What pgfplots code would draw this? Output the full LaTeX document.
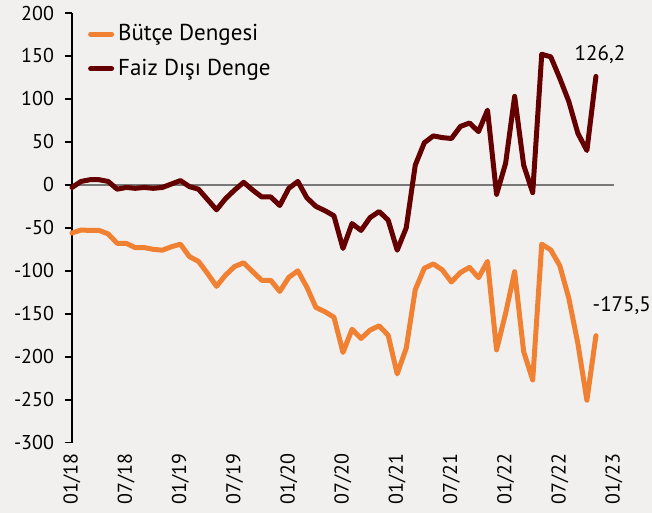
\documentclass[border=0pt]{standalone}
\usepackage{pgfplots}
\pgfplotsset{compat=1.18}
\usepackage{fontspec}
\setmainfont{PT Sans}
\definecolor{bgc}{RGB}{242,240,239}
\definecolor{orn}{RGB}{240,128,50}
\definecolor{drk}{RGB}{100,0,0}
\definecolor{zer}{RGB}{120,120,120}
\begin{document}
\begin{tikzpicture}
\path[use as bounding box, fill=bgc] (0,0) rectangle (326pt,256.5pt);
\begin{axis}[
  at={(36pt,35.15pt)}, anchor=south west,
  scale only axis, width=271pt, height=214.85pt,
  xmin=0, xmax=60, ymin=-300, ymax=200,
  axis x line*=bottom, axis y line*=left,
  x axis line style={draw=none},
  y axis line style={black, line width=0.8pt, -},
  xtick={0,6,...,60},
  xticklabels={01/18,07/18,01/19,07/19,01/20,07/20,01/21,07/21,01/22,07/22,01/23},
  x tick label style={rotate=90, anchor=east, font=\fontsize{10}{12}\selectfont},
  major x tick style={draw=none},
  ytick={-300,-250,...,200},
  yticklabels={-300,-250,-200,-150,-100,-50,0,50,100,150,200},
  y tick label style={font=\fontsize{10}{12}\selectfont},
  ytick align=outside, major tick length=3.5pt,
  major y tick style={black, line width=0.8pt},
  xticklabel shift=2pt, yticklabel shift=2pt,
  clip=false,
  legend cell align=left,
  legend style={draw=none, fill=none, at={(0.029,0.983)}, anchor=north west,
    font=\fontsize{11.5}{13}\selectfont, inner sep=0pt, row sep=3.5pt},
  legend image code/.code={\draw[#1, line width=2.5pt, line cap=round] (0pt,0pt) -- (10.5pt,0pt);},
]
\addplot[zer, line width=0.8pt, forget plot] coordinates {(0,0) (60,0)};
\addplot[orn, line width=2.5pt, line join=round, line cap=round, no marks] coordinates {
(0,-56)(1,-52.5)(2,-53)(3,-53)(4,-57)(5,-68)(6,-68)(7,-73)(8,-73)(9,-75)
(10,-76)(11,-72)(12,-69)(13,-83.5)(14,-89)(15,-103)(16,-118)(17,-105)(18,-95)(19,-90.6)
(20,-101)(21,-111)(22,-111)(23,-124)(24,-107.6)(25,-100)(26,-119)(27,-142.6)(28,-147.6)(29,-154)
(30,-195)(31,-168)(32,-178.7)(33,-169)(34,-164)(35,-175)(36,-220)(37,-190)(38,-122)(39,-97)
(40,-92)(41,-99)(42,-113)(43,-102)(44,-96)(45,-108)(46,-89)(47,-192)(48,-149.5)(49,-101)
(50,-194)(51,-227)(52,-69)(53,-75.7)(54,-94)(55,-132)(56,-184.5)(57,-250.6)(58,-175.5)};
\addlegendentry{Bütçe Dengesi}
\addplot[drk, line width=2.5pt, line join=round, line cap=round, no marks] coordinates {
(0,-3)(1,4)(2,6)(3,6)(4,4)(5,-5)(6,-3)(7,-4)(8,-3)(9,-4)
(10,-3)(11,1)(12,5)(13,-2)(14,-5)(15,-17)(16,-29)(17,-16)(18,-6)(19,3)
(20,-6)(21,-14)(22,-14)(23,-24)(24,-4)(25,4)(26,-15)(27,-25)(28,-30)(29,-36)
(30,-74)(31,-45)(32,-53)(33,-38)(34,-31)(35,-41)(36,-76)(37,-50)(38,23)(39,49)
(40,57)(41,55)(42,54)(43,68)(44,72)(45,62)(46,87)(47,-11)(48,25)(49,103)
(50,23)(51,-9)(52,152)(53,149)(54,124)(55,97)(56,60)(57,40)(58,126.2)};
\addlegendentry{Faiz Dışı Denge}
\node[font=\fontsize{10.5}{12}\selectfont] at (axis cs:58.45,151.5) {126,2};
\node[anchor=west, inner sep=0pt, font=\fontsize{10.5}{12}\selectfont] at (axis cs:57.6,-140) {-175,5};
\end{axis}
\end{tikzpicture}
\end{document}
